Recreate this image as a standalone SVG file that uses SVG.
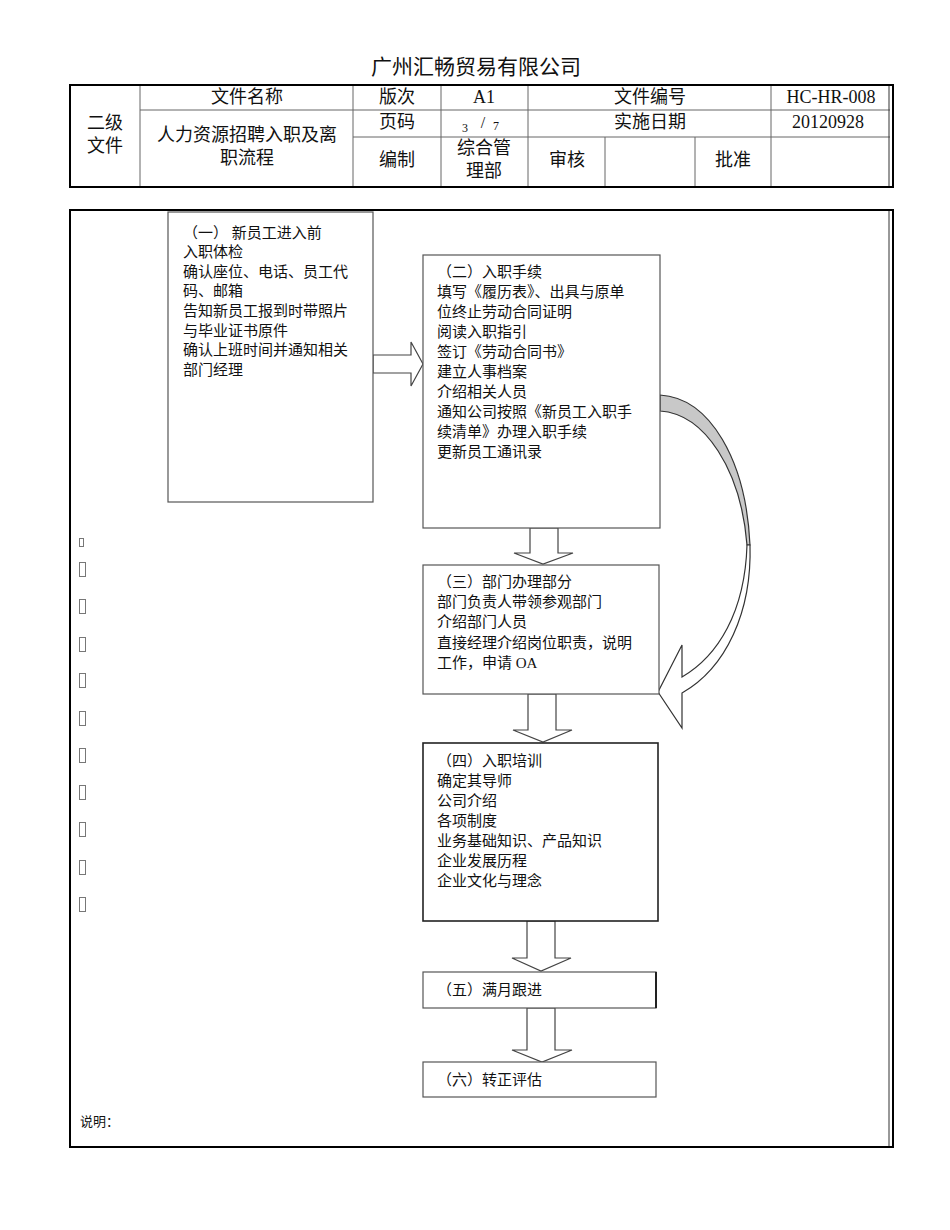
<svg xmlns="http://www.w3.org/2000/svg" width="950" height="1230" viewBox="0 0 950 1230">
<style>
text{font-family:"Liberation Serif","Noto Sans CJK SC",serif;fill:#111}
.t{font-size:18px;text-anchor:middle}
.b{font-size:15px}
.s{font-size:12px}
.cell{fill:none;stroke:#666;stroke-width:1}
.box{fill:#fff;stroke:#555;stroke-width:1.2}
.arr{fill:#fff;stroke:#444;stroke-width:1.2;stroke-linejoin:miter}
.tofu{fill:none;stroke:#777;stroke-width:1}
</style>
<rect width="950" height="1230" fill="#fff"/>
<text x="476" y="74" style="font-size:21px;text-anchor:middle">广州汇畅贸易有限公司</text>
<g id="header-table">
<line class="cell" x1="140" y1="85" x2="140" y2="187"/>
<line class="cell" x1="353" y1="85" x2="353" y2="187"/>
<line class="cell" x1="441" y1="85" x2="441" y2="187"/>
<line class="cell" x1="528" y1="85" x2="528" y2="187"/>
<line class="cell" x1="771" y1="85" x2="771" y2="187"/>
<line class="cell" x1="605" y1="137" x2="605" y2="187"/>
<line class="cell" x1="695" y1="137" x2="695" y2="187"/>
<line class="cell" x1="140" y1="110" x2="890" y2="110"/>
<line class="cell" x1="353" y1="137" x2="890" y2="137"/>
<line x1="889" y1="85" x2="889" y2="187" stroke="#333" stroke-width="1"/>
<rect x="70" y="85" width="823" height="102" fill="none" stroke="#000" stroke-width="2"/>
<text class="t" x="105" y="129">二级</text>
<text class="t" x="105" y="152">文件</text>
<text class="t" x="247" y="103">文件名称</text>
<text class="t" x="247" y="141">人力资源招聘入职及离</text>
<text class="t" x="247" y="164">职流程</text>
<text class="t" x="397" y="103">版次</text>
<text class="t" x="484" y="103">A1</text>
<text class="t" x="650" y="103">文件编号</text>
<text class="t" x="831" y="103">HC-HR-008</text>
<text class="t" x="397" y="128">页码</text>
<text class="s" x="462" y="132">3</text>
<text class="t" x="483" y="128" style="font-size:16px">/</text>
<text class="s" x="493" y="130">7</text>
<text class="t" x="650" y="128">实施日期</text>
<text class="t" x="828" y="128">20120928</text>
<text class="t" x="397" y="166">编制</text>
<text class="t" x="484" y="154">综合管</text>
<text class="t" x="484" y="177">理部</text>
<text class="t" x="567" y="166">审核</text>
<text class="t" x="733" y="166">批准</text>
</g>
<g id="frame">
<line x1="889" y1="210" x2="889" y2="1147" stroke="#333" stroke-width="1"/>
<rect x="70" y="210" width="823" height="937" fill="none" stroke="#000" stroke-width="2"/>
<rect class="tofu" x="79.5" y="538.5" width="4" height="8"/>
<rect class="tofu" x="79.5" y="562.5" width="6" height="14"/>
<rect class="tofu" x="79.5" y="599.5" width="6" height="14"/>
<rect class="tofu" x="79.5" y="637.5" width="6" height="14"/>
<rect class="tofu" x="79.5" y="673.5" width="6" height="14"/>
<rect class="tofu" x="79.5" y="711.5" width="6" height="14"/>
<rect class="tofu" x="79.5" y="748.5" width="6" height="14"/>
<rect class="tofu" x="79.5" y="785.5" width="6" height="14"/>
<rect class="tofu" x="79.5" y="822.5" width="6" height="14"/>
<rect class="tofu" x="79.5" y="860.5" width="6" height="14"/>
<rect class="tofu" x="79.5" y="897.5" width="6" height="14"/>
<text x="80" y="1126" style="font-family:'Noto Sans CJK SC',sans-serif;font-size:13px">说明：</text>
</g>
<g id="connectors">
<polygon class="arr" points="373,355 411,355 411,342 423,364 411,386 411,373 373,373"/>
<polygon class="arr" points="530,528 558,528 558,553 573,553 543,564 514,553 530,553"/>
<polygon class="arr" points="528,694 556,694 556,730 572,730 543,742 513,730 528,730"/>
<polygon class="arr" points="527,921 555,921 555,958 571,958 541,971 512,958 527,958"/>
<polygon class="arr" points="527,1008 555,1008 555,1050 572,1050 542,1062 512,1050 527,1050"/>
<path d="M660,395 C710,398 746,460 750,545 L747,545 C741,470 705,414 660,411 Z" fill="#c8c8c8" stroke="#333" stroke-width="1.2"/>
<path d="M747,545 C745,612 718,656 682,677 L682,645 L658,692 L682,728 L682,693 C726,668 752,612 750,545 Z" fill="#fff" stroke="#333" stroke-width="1.2" stroke-linejoin="miter"/>
</g>
<g id="node1">
<rect class="box" x="168" y="212" width="205" height="290"/>
<text class="b" x="183" y="238">（一） 新员工进入前</text>
<text class="b" x="183" y="257">入职体检</text>
<text class="b" x="183" y="277">确认座位、电话、员工代</text>
<text class="b" x="183" y="296">码、邮箱</text>
<text class="b" x="183" y="316">告知新员工报到时带照片</text>
<text class="b" x="183" y="336">与毕业证书原件</text>
<text class="b" x="183" y="355">确认上班时间并通知相关</text>
<text class="b" x="183" y="375">部门经理</text>
</g>
<g id="node2">
<rect class="box" x="423" y="255" width="237" height="273"/>
<text class="b" x="437" y="277">（二）入职手续</text>
<text class="b" x="437" y="297">填写《履历表》、出具与原单</text>
<text class="b" x="437" y="317">位终止劳动合同证明</text>
<text class="b" x="437" y="337">阅读入职指引</text>
<text class="b" x="437" y="357">签订《劳动合同书》</text>
<text class="b" x="437" y="377">建立人事档案</text>
<text class="b" x="437" y="397">介绍相关人员</text>
<text class="b" x="437" y="417">通知公司按照《新员工入职手</text>
<text class="b" x="437" y="437">续清单》办理入职手续</text>
<text class="b" x="437" y="457">更新员工通讯录</text>
</g>
<g id="node3">
<rect class="box" x="423" y="565" width="236" height="129"/>
<text class="b" x="437" y="587">（三）部门办理部分</text>
<text class="b" x="437" y="607">部门负责人带领参观部门</text>
<text class="b" x="437" y="627">介绍部门人员</text>
<text class="b" x="437" y="648">直接经理介绍岗位职责，说明</text>
<text class="b" x="437" y="668">工作，申请 OA</text>
</g>
<g id="node4">
<rect class="box" x="423" y="743" width="235" height="178" style="stroke:#222;stroke-width:1.6"/>
<text class="b" x="437" y="766">（四）入职培训</text>
<text class="b" x="437" y="786">确定其导师</text>
<text class="b" x="437" y="806">公司介绍</text>
<text class="b" x="437" y="826">各项制度</text>
<text class="b" x="437" y="846">业务基础知识、产品知识</text>
<text class="b" x="437" y="866">企业发展历程</text>
<text class="b" x="437" y="886">企业文化与理念</text>
</g>
<g id="node5">
<rect class="box" x="423" y="972" width="233" height="36"/>
<line x1="656" y1="972" x2="656" y2="1008" stroke="#222" stroke-width="2"/>
<text class="b" x="437" y="995">（五）满月跟进</text>
</g>
<g id="node6">
<rect class="box" x="423" y="1062" width="233" height="35"/>
<text class="b" x="437" y="1085">（六）转正评估</text>
</g>
</svg>
